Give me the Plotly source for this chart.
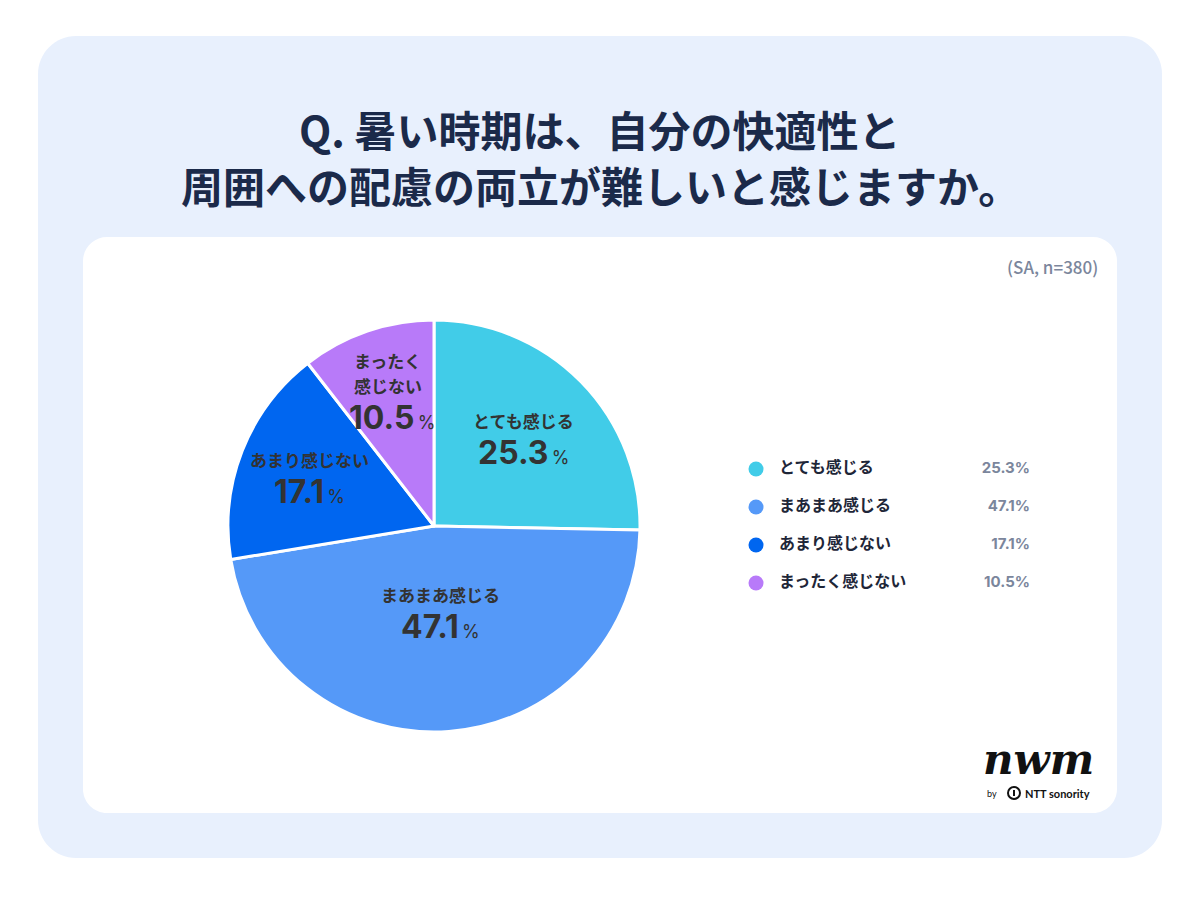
import math
import plotly.graph_objects as go

# ---- data ----
categories = ["とても感じる", "まあまあ感じる", "あまり感じない", "まったく感じない"]
slice_labels = [["とても感じる"], ["まあまあ感じる"], ["あまり感じない"], ["まったく", "感じない"]]
values = [25.3, 47.1, 17.1, 10.5]
colors = ["#41CCE8", "#5599F8", "#0066F0", "#B87AF9"]

title_lines = ["Q. 暑い時期は、自分の快適性と", "周囲への配慮の両立が難しいと感じますか。"]
sample_note = "(SA, n=380)"

W, H = 1200, 900
JP = "Noto Sans CJK JP"
NUM = "Inter"
DARK = "#1B2A4A"


def X(px):
    return px / W


def Y(py):
    return 1 - py / H


def rrect(x0, y0, x1, y1, r):
    k = 0.4477 * r
    return (
        f"M {X(x0 + r)},{Y(y0)} L {X(x1 - r)},{Y(y0)} "
        f"C {X(x1 - k)},{Y(y0)} {X(x1)},{Y(y0 + k)} {X(x1)},{Y(y0 + r)} "
        f"L {X(x1)},{Y(y1 - r)} "
        f"C {X(x1)},{Y(y1 - k)} {X(x1 - k)},{Y(y1)} {X(x1 - r)},{Y(y1)} "
        f"L {X(x0 + r)},{Y(y1)} "
        f"C {X(x0 + k)},{Y(y1)} {X(x0)},{Y(y1 - k)} {X(x0)},{Y(y1 - r)} "
        f"L {X(x0)},{Y(y0 + r)} "
        f"C {X(x0)},{Y(y0 + k)} {X(x0 + k)},{Y(y0)} {X(x0 + r)},{Y(y0)} Z"
    )


fig = go.Figure()

# pie geometry (pixels)
cx, cy, R = 434, 526, 206
fig.add_trace(go.Pie(
    labels=categories,
    values=values,
    sort=False,
    direction="clockwise",
    rotation=0,
    marker=dict(colors=colors, line=dict(color="white", width=3)),
    textinfo="none",
    hoverinfo="skip",
    showlegend=False,
    domain=dict(x=[X(cx - R), X(cx + R)], y=[Y(cy + R), Y(cy - R)]),
))

# custom legend (markers + text) on hidden axes
idx = list(range(len(categories)))
fig.add_trace(go.Scatter(
    x=[756] * len(categories), y=idx, mode="markers",
    marker=dict(size=15, color=colors, line=dict(width=0)),
    hoverinfo="skip", showlegend=False,
))
fig.add_trace(go.Scatter(
    x=[779] * len(categories), y=idx, mode="text",
    text=[f"<b>{c}</b>" for c in categories], textposition="middle right",
    textfont=dict(family=JP, size=16, color="#1E2638"),
    hoverinfo="skip", showlegend=False,
))
fig.add_trace(go.Scatter(
    x=[1030] * len(categories), y=idx, mode="text",
    text=[f"<b>{v:.1f}%</b>" for v in values], textposition="middle left",
    textfont=dict(family=NUM, size=15, color="#7B869C"),
    hoverinfo="skip", showlegend=False,
))

annotations = []
# title
for i, line in enumerate(title_lines):
    annotations.append(dict(
        text=f"<b>{line}</b>", x=0.5, y=Y(128 + 56 * i), xref="paper", yref="paper",
        xanchor="center", yanchor="middle", showarrow=False,
        font=dict(family=JP, size=42, color=DARK),
    ))

annotations.append(dict(
    text=sample_note, x=X(1100), y=Y(266), xref="paper", yref="paper",
    xanchor="right", yanchor="middle", showarrow=False,
    font=dict(family=JP, size=17, color="#7B869C", weight=500),
))

# slice labels placed at slice mid-angles
radius_frac = [0.61, 0.42, 0.65, 0.63]
total = sum(values)
cum = 0
for lines, v, f in zip(slice_labels, values, radius_frac):
    mid = (cum + v / 2) / total * 2 * math.pi
    cum += v
    px = cx + R * f * math.sin(mid)
    py = cy - R * f * math.cos(mid)
    n = len(lines)
    for j, ln in enumerate(lines):
        annotations.append(dict(
            text=f"<b>{ln}</b>", x=X(px - 4 * (n - 1)), y=Y(py), xref="paper", yref="paper",
            xanchor="center", yanchor="bottom", yshift=3 + 25 * (n - 1 - j), showarrow=False,
            font=dict(family=JP, size=17, color="#333333"),
        ))
    annotations.append(dict(
        text=f"<b>{v:.1f}</b><span style='font-size:18px'>\u2009%</span>",
        x=X(px), y=Y(py), xref="paper", yref="paper",
        xanchor="center", yanchor="top", yshift=7, showarrow=False,
        font=dict(family=NUM, size=32, color="#333333"),
    ))

# logo
annotations.append(dict(
    text="<b><i>nwm</i></b>", x=X(1038), y=Y(759), xref="paper", yref="paper",
    xanchor="center", yanchor="middle", showarrow=False,
    font=dict(family="DejaVu Serif", size=42, color="#111111"),
))
annotations.append(dict(
    text="by", x=X(992), y=Y(793), xref="paper", yref="paper",
    xanchor="center", yanchor="middle", showarrow=False,
    font=dict(family="Lato", size=9, color="#111111"),
))
annotations.append(dict(
    text="<b>NTT sonority</b>", x=X(1023), y=Y(793), xref="paper", yref="paper",
    xanchor="left", yanchor="middle", showarrow=False,
    font=dict(family="Lato", size=11, color="#111111"),
))

shapes = [
    dict(type="path", path=rrect(38, 36, 1162, 858, 38), xref="paper", yref="paper",
         fillcolor="#E8F0FD", line=dict(width=0), layer="below"),
    dict(type="path", path=rrect(83, 237, 1117, 813, 24), xref="paper", yref="paper",
         fillcolor="#FFFFFF", line=dict(width=0), layer="below"),
    # small logo circle mark
    dict(type="circle", xref="paper", yref="paper",
         x0=X(1008), x1=X(1020), y0=Y(799), y1=Y(787),
         line=dict(color="#111111", width=2), fillcolor="rgba(0,0,0,0)"),
    dict(type="line", xref="paper", yref="paper",
         x0=X(1014), x1=X(1014), y0=Y(796), y1=Y(790),
         line=dict(color="#111111", width=2)),
]

fig.update_layout(
    width=W, height=H,
    margin=dict(l=0, r=0, t=0, b=0),
    paper_bgcolor="white", plot_bgcolor="rgba(0,0,0,0)",
    xaxis=dict(domain=[0, 1], range=[0, W], visible=False, fixedrange=True),
    yaxis=dict(domain=[Y(602), Y(450)], range=[3.5, -0.5], visible=False, fixedrange=True),
    annotations=annotations,
    shapes=shapes,
    showlegend=False,
)

fig.write_html("out.html", config={"displayModeBar": False},
               post_script="document.body.style.margin='0';")
